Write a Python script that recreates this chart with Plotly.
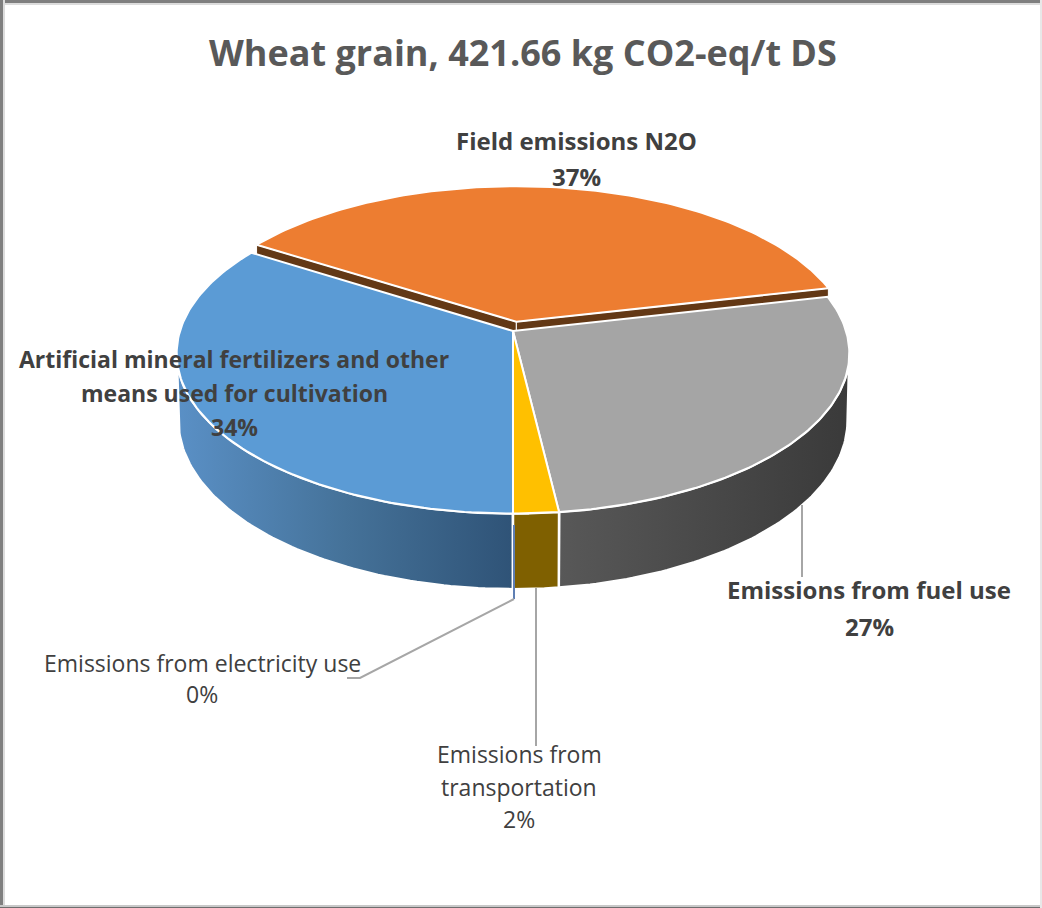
"""Wheat grain emissions as a tilted, exploded 3-D pie drawn on plain scatter traces."""
import numpy as np
import plotly.graph_objects as go

TITLE = "Wheat grain, 421.66 kg CO2-eq/t DS"
names = ["Artificial mineral fertilizers and other means used for cultivation",
         "Field emissions N2O", "Emissions from fuel use",
         "Emissions from transportation", "Emissions from electricity use"]
shares = [34.0, 37.4, 26.7, 1.9, 0.0]

top_colors = ["#5b9bd5", "#ed7d31", "#a5a5a5", "#ffc000", "#4472c4"]
wall_scales = [
    [[0, "#5a90c6"], [0.5, "#457299"], [1, "#2f5377"]],
    [[0, "#633815"], [1, "#633815"]],
    [[0, "#585858"], [1, "#3a3a3a"]],
    [[0, "#7f6000"], [1, "#7f6000"]],
    [[0, "#4472c4"], [1, "#4472c4"]],
]
EXPLODE = [0, 0.06, 0, 0, 0]

W, H = 1042, 908
CX, CY = 513, 331
RX, RY = 333, 157      # radii of the disc on screen
PERSP = 0.14           # front of the disc is drawn bigger than the back
DEPTH = 66
BOTTOM_R = 0.995       # the lower rim is a little narrower than the upper one
START = 180


def project(theta, offset=(0.0, 0.0), r=1.0, drop=0.0):
    u = r * np.sin(theta) + offset[0]
    v = r * np.cos(theta) + offset[1]
    s = 1 / (1 + PERSP * v)
    return CX + RX * u * s, CY - RY * v * s + drop * s


def poly(fig, x, y, color=None, gradient=None, edge="white", width=2):
    trace = dict(x=x, y=y, mode="lines", fill="toself", line=dict(color=edge, width=width),
                 hoverinfo="skip", showlegend=False)
    if gradient:
        trace["fillgradient"] = dict(type="horizontal", colorscale=gradient)
    else:
        trace["fillcolor"] = color
    fig.add_trace(go.Scatter(**trace))


fig = go.Figure()

edges = np.radians(START + np.cumsum([0] + shares) * 3.6)
mids = (edges[:-1] + edges[1:]) / 2
offsets = [(e * np.sin(m), e * np.cos(m)) for e, m in zip(EXPLODE, mids)]

# the exploded slice goes first: only its cut faces show, through the gap
for i in np.argsort([-e for e in EXPLODE]):
    a0, a1, off = edges[i], edges[i + 1], offsets[i]
    if a1 == a0:
        continue
    if EXPLODE[i]:
        for a in (a0, a1):
            xe, ye = project(a, off)
            xc, yc = project(a, off, r=0.0)
            xeb, yeb = project(a, off, drop=DEPTH)
            xcb, ycb = project(a, off, r=0.0, drop=DEPTH)
            poly(fig, [xc, xe, xeb, xcb, xc], [yc, ye, yeb, ycb, yc], color="#633815", width=1)
        continue
    # outer wall, only the part that faces the viewer
    tangent = np.arccos(-PERSP)
    for lo, hi in ((tangent, 2 * np.pi - tangent), (tangent + 2 * np.pi, 4 * np.pi - tangent)):
        w0, w1 = max(a0, lo), min(a1, hi)
        if w1 > w0:
            th = np.linspace(w0, w1, 80)
            xt, yt = project(th, off)
            xb, yb = project(th[::-1], off, r=BOTTOM_R, drop=DEPTH)
            poly(fig, np.r_[xt, xb, xt[0]], np.r_[yt, yb, yt[0]], gradient=wall_scales[i], width=2.5)

# top faces
for i in range(len(shares)):
    a0, a1, off = edges[i], edges[i + 1], offsets[i]
    if a1 == a0:
        continue
    th = np.linspace(a0, a1, 120)
    xa, ya = project(th, off)
    xc, yc = project(0.0, off, r=0.0)
    poly(fig, np.r_[xc, xa, xc], np.r_[yc, ya, yc], color=top_colors[i], width=2)

# leader lines
LEADERS = [
    ([802, 802], [505, 577], "#a6a6a6"),
    ([536, 536], [588, 746], "#a6a6a6"),
    ([514, 514], [525, 599], "#5f7fb3"),
    ([514, 360, 347], [599, 678, 678], "#a6a6a6"),
]
for lx, ly, lc in LEADERS:
    fig.add_trace(go.Scatter(x=lx, y=ly, mode="lines", line=dict(color=lc, width=2),
                             hoverinfo="skip", showlegend=False))


def label(x, y, text, size, color="#404040", bold=False):
    fig.add_annotation(x=x, y=y, text=f"<b>{text}</b>" if bold else text, showarrow=False,
                       xanchor="center", yanchor="middle",
                       font=dict(family="Open Sans", size=size, color=color))


pct = [f"{v:.0f}%" for v in shares]
label(523, 52, TITLE, 36, color="#595959", bold=True)
label(576, 140, names[1], 24, bold=True)
label(576, 176, pct[1], 24, bold=True)
label(234, 359, "Artificial mineral fertilizers and other", 23, bold=True)
label(234, 393, "means used for cultivation", 23, bold=True)
label(234, 427, pct[0], 23, bold=True)
label(869, 589, names[2], 24, bold=True)
label(869, 626, pct[2], 24, bold=True)
label(519, 754, "Emissions from", 23)
label(519, 787, "transportation", 23)
label(519, 819, pct[3], 23)
label(202, 663, names[4], 23)
label(202, 694, pct[4], 23)

# frame of the picture
FRAME = [(0, 0, W, 3, "#7f7f7f"), (0, 3, W, 5, "#dcdcdc"), (0, 0, 3, H, "#7f7f7f"), (3, 0, 5, H, "#dcdcdc"),
         (0, 905, W, 907, "#c8c8c8"), (0, 907, W, 908, "#6e6e6e"), (1040, 0, W, H, "#e8e8e8")]
for x0, y0, x1, y1, c in FRAME:
    fig.add_shape(type="rect", x0=x0, y0=y0, x1=x1, y1=y1, fillcolor=c, line=dict(width=0), layer="above")

fig.update_xaxes(visible=False, range=[0, W])
fig.update_yaxes(visible=False, range=[H, 0])
fig.update_layout(width=W, height=H, margin=dict(l=0, r=0, t=0, b=0),
                  plot_bgcolor="white", paper_bgcolor="white", showlegend=False)
fig.write_html("out.html", config=dict(displayModeBar=False),
               post_script="document.body.style.margin='0';document.body.style.overflow='hidden';")
